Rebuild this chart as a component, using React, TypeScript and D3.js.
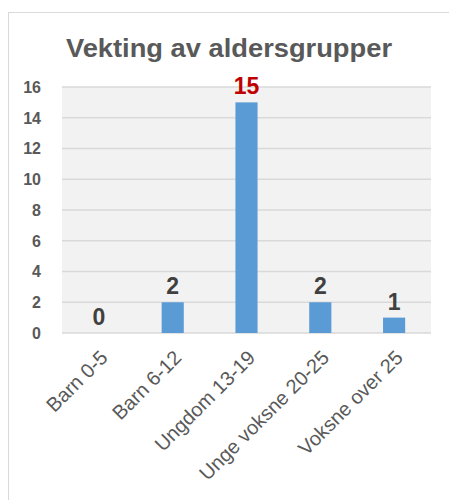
import * as React from "react";
import * as d3 from "d3";

const categories = ["Barn 0-5", "Barn 6-12", "Ungdom 13-19", "Unge voksne 20-25", "Voksne over 25"];
const values = [0, 2, 15, 2, 1];
const labelColors = ["#404040", "#404040", "#c00000", "#404040", "#404040"];
const yTicks = [0, 2, 4, 6, 8, 10, 12, 14, 16];

const W = 449;
const H = 500;
const plot = { left: 62, right: 431, top: 87, bottom: 333 };
const font = "'Liberation Sans', Arial, sans-serif";

export default function App() {
    const x = d3.scaleBand<string>()
        .domain(categories)
        .range([plot.left, plot.right])
        .paddingInner(0.7)
        .paddingOuter(0.35);
    const y = d3.scaleLinear().domain([0, 16]).range([plot.bottom, plot.top]);

    return <svg width={W} height={H} style={{ position: "absolute", left: 0, top: 0, background: "#fff" }}>
        <rect x={8.5} y={12.5} width={W + 10} height={H + 10} fill="#fff" stroke="#d9d9d9" />
        <text x={229} y={57} textAnchor="middle" fontFamily={font} fontWeight="bold" fontSize={26}
            fill="#595959" textLength={326} lengthAdjust="spacingAndGlyphs">Vekting av aldersgrupper</text>

        <rect x={plot.left} y={plot.top} width={plot.right - plot.left} height={plot.bottom - plot.top} fill="#f2f2f2" />
        {yTicks.map(t => <g key={t}>
            <line x1={plot.left} x2={plot.right} y1={y(t)} y2={y(t)} stroke="#d9d9d9" strokeWidth={1.5} />
            <text x={41} y={y(t)} dy="0.36em" textAnchor="end" fontFamily={font} fontWeight="bold"
                fontSize={16} fill="#595959">{t}</text>
        </g>)}

        {categories.map((c, i) => {
            const bx = x(c) || 0;
            const cx = bx + x.bandwidth() / 2;
            return <g key={c}>
                {values[i] > 0 && <rect x={bx} y={y(values[i])} width={x.bandwidth()}
                    height={y(0) - y(values[i])} fill="#5b9bd5" />}
                <text x={cx} y={y(values[i]) - 8} textAnchor="middle" fontFamily={font} fontWeight="bold"
                    fontSize={23} fill={labelColors[i]}>{values[i]}</text>
                <text transform={`translate(${cx + 5},${plot.bottom + 21}) rotate(-45)`} textAnchor="end"
                    dy="0.35em" fontFamily={font} fontSize={20} fill="#595959">{c}</text>
            </g>;
        })}
    </svg>;
}
